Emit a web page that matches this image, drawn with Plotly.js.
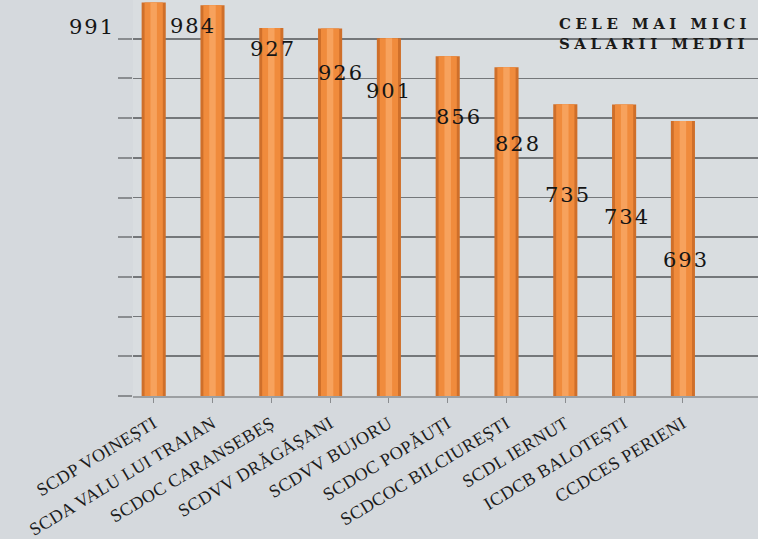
<!DOCTYPE html>
<html>
<head>
<meta charset="utf-8">
<script src="https://cdn.plot.ly/plotly-3.0.1.min.js"></script>
<style>
html,body{margin:0;padding:0;background:#d5d9dd;}
#chart{width:758px;height:539px;}
g.annotation text{letter-spacing:2px;}
g.annotation[data-index="10"] text{letter-spacing:4.5px;}
g.xtick text{letter-spacing:0.4px;}
</style>
</head>
<body>
<div id="chart"></div>
<script>
// ---- data ----
const categories = [
  "SCDP VOINEȘTI",
  "SCDA VALU LUI TRAIAN",
  "SCDOC CARANSEBEȘ",
  "SCDVV DRĂGĂȘANI",
  "SCDVV BUJORU",
  "SCDOC POPĂUȚI",
  "SCDCOC BILCIUREȘTI",
  "SCDL IERNUT",
  "ICDCB BALOTEȘTI",
  "CCDCES PERIENI"
];
const salaries = [991, 984, 927, 926, 901, 856, 828, 735, 734, 693];
const titleLines = ["CELE MAI MICI", "SALARII MEDII"];

// label offsets in pixels (layout only)
const labelDx = [-63, -21, 1, 10, -1, 10, 10, 2, 2, 2];
const labelDy = [24, 21, 21, 45, 53, 61, 77, 91, 112, 139];

const idx = categories.map((_, i) => i);

const traces = [
  {type: 'bar', x: idx, y: salaries, width: 0.41,
   marker: {color: '#cf6f2a'}, hoverinfo: 'skip', showlegend: false},
  {type: 'bar', x: idx, y: salaries, width: 0.31,
   marker: {color: '#f08b3c'}, hoverinfo: 'skip', showlegend: false},
  {type: 'bar', x: idx, y: salaries, width: 0.11,
   marker: {color: '#f7a25d'}, showlegend: false}
];

const annotations = salaries.map((v, i) => ({
  xref: 'x', yref: 'y', x: i, y: v,
  xshift: labelDx[i] + 1, yshift: -labelDy[i],
  text: String(v), showarrow: false,
  xanchor: 'center', yanchor: 'middle',
  font: {family: 'DejaVu Serif', size: 21, color: '#151515'}
}));
annotations.push({
  xref: 'paper', yref: 'paper', x: 0.678, y: 1 - 13 / 396,
  xanchor: 'left', yanchor: 'top', align: 'left', showarrow: false,
  text: titleLines.join('<br>'),
  font: {family: 'DejaVu Serif', size: 15, color: '#1a1a1a', weight: 'bold'}
});

const layout = {
  width: 758, height: 539,
  margin: {l: 133, r: 0, t: 0, b: 143},
  paper_bgcolor: '#d5d9dd',
  plot_bgcolor: '#d9dde0',
  barmode: 'overlay',
  showlegend: false,
  xaxis: {
    range: [-0.352, 10.277],
    tickmode: 'array', tickvals: idx, ticktext: categories,
    tickangle: -31,
    tickfont: {family: 'Liberation Serif', size: 18, color: '#1c1c1c'},
    ticklabelstandoff: 3,
    showline: true, linecolor: '#9c9fa2', linewidth: 2,
    ticks: 'outside', tickson: 'boundaries', ticklen: 5, tickcolor: '#8a8d90',
    showgrid: false, zeroline: false
  },
  yaxis: {
    range: [0, 997.5], dtick: 100,
    showticklabels: false,
    ticks: 'outside', ticklen: 14, tickcolor: '#8a8d90', tickwidth: 2,
    showgrid: true, gridcolor: '#74777a', gridwidth: 1.6,
    zeroline: false, showline: false
  },
  annotations: annotations
};

Plotly.newPlot('chart', traces, layout, {displayModeBar: false, staticPlot: true});
</script>
</body>
</html>
